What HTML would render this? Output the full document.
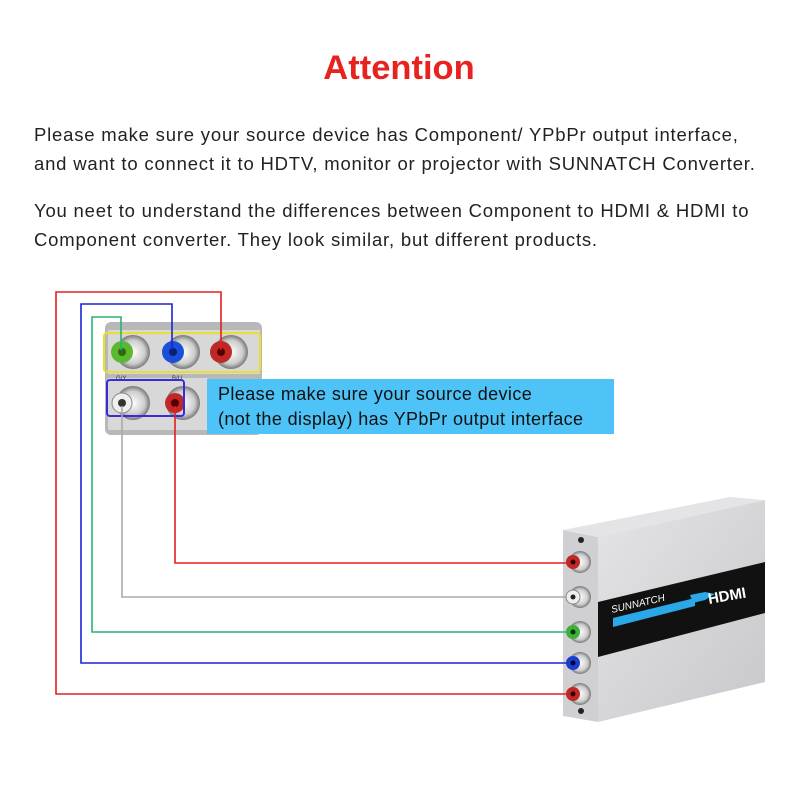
<!DOCTYPE html>
<html><head><meta charset="utf-8"><style>
html,body{margin:0;padding:0;background:#fff;}
body{width:800px;height:800px;position:relative;overflow:hidden;font-family:"Liberation Sans",sans-serif;}
.t{position:absolute;left:0;width:798px;text-align:center;top:49px;font-size:34.5px;font-weight:bold;color:#e8231f;}
.p{position:absolute;left:34px;font-size:18.5px;letter-spacing:0.8px;color:#222;line-height:29px;white-space:nowrap;}
</style></head><body>
<div class="t">Attention</div>
<div class="p" style="top:120px">Please make sure your source device has Component/ YPbPr output interface,<br>and want to connect it to HDTV, monitor or projector with SUNNATCH Converter.</div>
<div class="p" style="top:196px">You neet to understand the differences between Component to HDMI &amp; HDMI to<br>Component converter. They look similar, but different products.</div>
<svg width="800" height="800" style="position:absolute;left:0;top:0">
<defs>
<radialGradient id="m" cx="50%" cy="50%" r="50%"><stop offset="0" stop-color="#fff"/><stop offset="0.7" stop-color="#ccc"/><stop offset="1" stop-color="#777"/></radialGradient>
<linearGradient id="body" x1="0" y1="0" x2="1" y2="1"><stop offset="0" stop-color="#e4e4e6"/><stop offset="1" stop-color="#c8c8cc"/></linearGradient>
</defs>
<rect x="105" y="322" width="157" height="113" rx="6" fill="#b8b8b8"/>
<rect x="108" y="330" width="152" height="44" fill="#d8d8d8"/>
<rect x="108" y="378" width="100" height="52" fill="#d8d8d8"/>
<g>
<circle cx="133" cy="352" r="17" fill="url(#m)"/><circle cx="122" cy="352" r="11" fill="#5cb82e"/><circle cx="122" cy="352" r="4" fill="#2a6a10"/>
<circle cx="183" cy="352" r="17" fill="url(#m)"/><circle cx="173" cy="352" r="11" fill="#1a4fd8"/><circle cx="173" cy="352" r="4" fill="#0a2070"/>
<circle cx="231" cy="352" r="17" fill="url(#m)"/><circle cx="221" cy="352" r="11" fill="#c02828"/><circle cx="221" cy="352" r="4" fill="#500"/>
<circle cx="133" cy="403" r="17" fill="url(#m)"/><circle cx="122" cy="403" r="10" fill="#eee" stroke="#888"/><circle cx="122" cy="403" r="4" fill="#333"/>
<circle cx="183" cy="403" r="17" fill="url(#m)"/><circle cx="175" cy="403" r="10" fill="#c02828"/><circle cx="175" cy="403" r="4" fill="#500"/>
</g>
<text x="116" y="380" font-size="6" fill="#333">G/Y</text><text x="172" y="380" font-size="6" fill="#333">B/U</text>
<rect x="104" y="333" width="156" height="39" rx="3" fill="none" stroke="#e8e030" stroke-width="2"/>
<rect x="107" y="380" width="77" height="36" rx="3" fill="none" stroke="#3a2ad8" stroke-width="2"/>
<rect x="207" y="379" width="407" height="55" fill="#4dc3f7"/>
<text x="218" y="400" font-size="18" letter-spacing="0.4" fill="#111">Please make sure your source device</text>
<text x="218" y="425" font-size="18" letter-spacing="0.4" fill="#111">(not the display) has YPbPr output interface</text>
<polygon points="598,537 765,500 765,682 598,722" fill="url(#body)"/>
<polygon points="563,530 598,537 598,722 563,716" fill="#d0d0d2"/>
<polygon points="563,530 730,497 765,500 598,537" fill="#e4e4e6"/>
<polygon points="598,602 765,562 765,613 598,657" fill="#111"/>
<polygon points="613,618 695,598 695,606 613,627" fill="#2aa8e8"/>
<polygon points="690,595 705,592 715,594 705,600 693,603" fill="#2aa8e8"/>
<text x="612" y="613" font-size="10" fill="#fff" transform="rotate(-13 612 613)" font-style="italic">SUNNATCH</text>
<text x="709" y="604" font-size="15" font-weight="bold" fill="#fff" transform="rotate(-10 709 604)">HDMI</text>
<g>
<circle cx="580" cy="562" r="11" fill="url(#m)"/><circle cx="573" cy="562" r="7" fill="#c02828"/><circle cx="573" cy="562" r="2.5" fill="#300"/>
<circle cx="580" cy="597" r="11" fill="url(#m)"/><circle cx="573" cy="597" r="7" fill="#eee" stroke="#888"/><circle cx="573" cy="597" r="2.5" fill="#222"/>
<circle cx="580" cy="632" r="11" fill="url(#m)"/><circle cx="573" cy="632" r="7" fill="#3bb03b"/><circle cx="573" cy="632" r="2.5" fill="#030"/>
<circle cx="580" cy="663" r="11" fill="url(#m)"/><circle cx="573" cy="663" r="7" fill="#1a3ed0"/><circle cx="573" cy="663" r="2.5" fill="#003"/>
<circle cx="580" cy="694" r="11" fill="url(#m)"/><circle cx="573" cy="694" r="7" fill="#c02828"/><circle cx="573" cy="694" r="2.5" fill="#300"/>
<circle cx="581" cy="540" r="3" fill="#222"/><circle cx="581" cy="711" r="3" fill="#222"/>
</g>
<g fill="none" stroke-width="1.6">
<polyline points="221,350 221,292 56,292 56,694 567,694" stroke="#e02020"/>
<polyline points="172,350 172,304 81,304 81,663 567,663" stroke="#1a22d8"/>
<polyline points="121,350 121,317 92,317 92,632 567,632" stroke="#2ab07a"/>
<polyline points="122,406 122,597 567,597" stroke="#aaa"/>
<polyline points="175,406 175,563 567,563" stroke="#e02020"/>
</g>
</svg>
</body></html>
